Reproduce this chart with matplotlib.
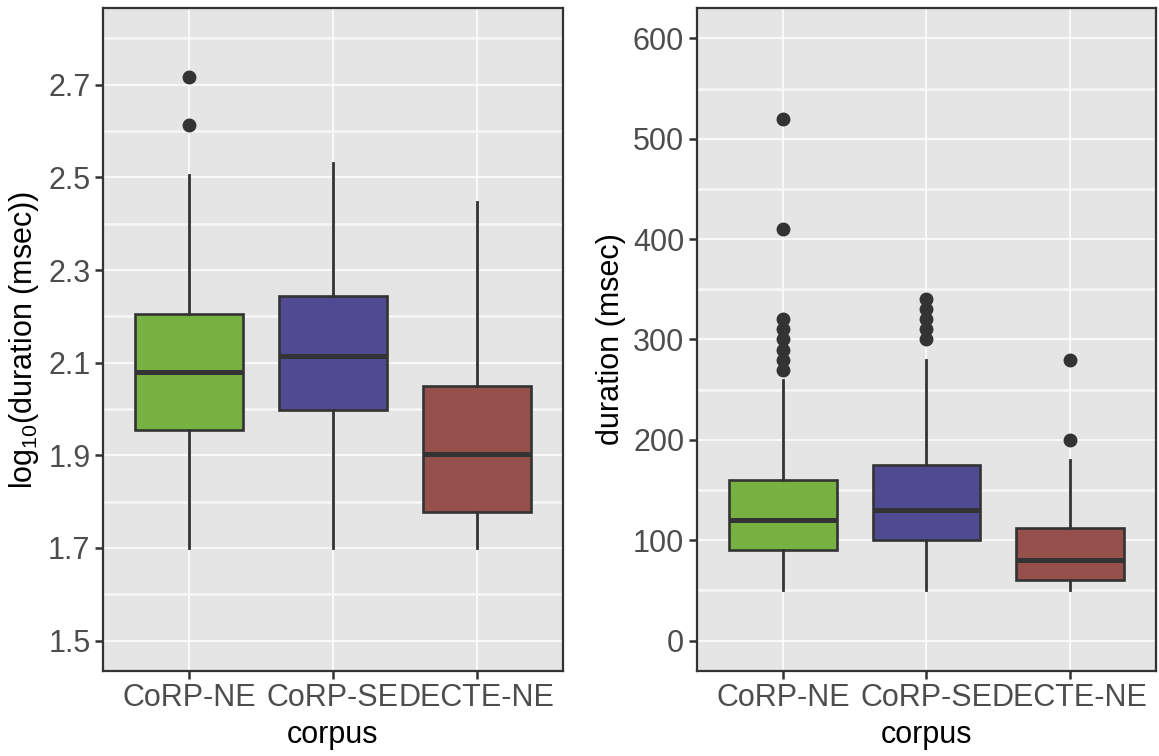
import matplotlib
matplotlib.use("Agg")
import matplotlib.pyplot as plt
from matplotlib.ticker import MultipleLocator

plt.rcParams["font.family"] = ["Liberation Sans", "DejaVu Sans"]
plt.rcParams["mathtext.fontset"] = "custom"
plt.rcParams["mathtext.rm"] = "Liberation Sans"
plt.rcParams["mathtext.it"] = "Liberation Sans:italic"

# ---- data -------------------------------------------------------------
corpora = ["CoRP-NE", "CoRP-SE", "DECTE-NE"]
fill_colors = ["#77B142", "#504A93", "#95504C"]

# log10(duration) summary per corpus
log_whislo = [1.699, 1.699, 1.699]
log_q1 = [1.954, 1.997, 1.777]
log_med = [2.079, 2.114, 1.903]
log_q3 = [2.204, 2.243, 2.049]
log_whishi = [2.505, 2.530, 2.446]
log_fliers = [[2.613, 2.716], [], []]

# duration (msec) summary per corpus
ms_whislo = [50, 50, 50]
ms_q1 = [90, 100, 60]
ms_med = [120, 130, 80]
ms_q3 = [160, 175, 112]
ms_whishi = [260, 280, 180]
ms_fliers = [[270, 280, 290, 300, 310, 320, 410, 520],
             [300, 310, 320, 330, 340],
             [200, 280]]

# ---- style ------------------------------------------------------------
W, H = 1159, 756
fig = plt.figure(figsize=(W / 100, H / 100), dpi=100)

panel_bg = "#E5E5E5"
dark = "#333333"
tick_col = "#4D4D4D"
fs = 22.0


def make_stats(lo, q1, med, q3, hi, fl):
    return [dict(whislo=a, q1=b, med=c, q3=d, whishi=e, fliers=f)
            for a, b, c, d, e, f in zip(lo, q1, med, q3, hi, fl)]


def draw_panel(ax, stats, ylim, major, ylabel, ypad):
    ax.set_facecolor(panel_bg)
    bp = ax.bxp(stats, positions=[1, 2, 3], widths=0.75, patch_artist=True,
                showcaps=False,
                boxprops=dict(edgecolor=dark, linewidth=1.9),
                medianprops=dict(color=dark, linewidth=3.6, solid_capstyle="butt"),
                whiskerprops=dict(color=dark, linewidth=2.0),
                flierprops=dict(marker="o", markersize=9, markerfacecolor=dark,
                                markeredgecolor=dark, linestyle="none"))
    for patch, c in zip(bp["boxes"], fill_colors):
        patch.set_facecolor(c)
    for el in bp["boxes"] + bp["medians"] + bp["whiskers"] + bp["fliers"]:
        el.set_zorder(3)

    ax.set_xlim(0.4, 3.6)
    lo, hi = ylim
    pad = (hi - lo) * 0.05
    ax.set_ylim(lo - pad, hi + pad)
    ax.yaxis.set_major_locator(MultipleLocator(major))
    ax.yaxis.set_minor_locator(MultipleLocator(major / 2))
    ax.set_xticks([1, 2, 3])
    ax.set_xticklabels(corpora)

    ax.grid(which="major", axis="both", color="white", linewidth=1.1, zorder=0)
    ax.grid(which="minor", axis="y", color="#F7F7F7", linewidth=1.8, zorder=0)
    ax.set_axisbelow(True)

    for sp in ax.spines.values():
        sp.set_color(dark)
        sp.set_linewidth(1.6)
        sp.set_zorder(5)

    ax.tick_params(axis="both", which="major", length=6, width=1.8, color=dark,
                   labelsize=fs, labelcolor=tick_col, pad=3)
    ax.tick_params(axis="y", which="minor", length=0)
    ax.set_xlabel("corpus", fontsize=fs, color="black", labelpad=5)
    ax.set_ylabel(ylabel, fontsize=fs, color="black", labelpad=ypad)


bottom = (H - 670.7) / H
height = (670.7 - 8.3) / H

ax1 = fig.add_axes([103 / W, bottom, (563 - 103) / W, height])
draw_panel(ax1,
           make_stats(log_whislo, log_q1, log_med, log_q3, log_whishi, log_fliers),
           (1.5, 2.8), 0.2, r"log$_{10}$(duration (msec))", 5)
ax1.set_yticks([1.5, 1.7, 1.9, 2.1, 2.3, 2.5, 2.7])
ax1.set_yticklabels(["1.5", "1.7", "1.9", "2.1", "2.3", "2.5", "2.7"])

ax2 = fig.add_axes([696.7 / W, bottom, (1156 - 696.7) / W, height])
draw_panel(ax2,
           make_stats(ms_whislo, ms_q1, ms_med, ms_q3, ms_whishi, ms_fliers),
           (0, 600), 100, "duration (msec)", 5)

fig.savefig("out.png", dpi=100, facecolor="white")
